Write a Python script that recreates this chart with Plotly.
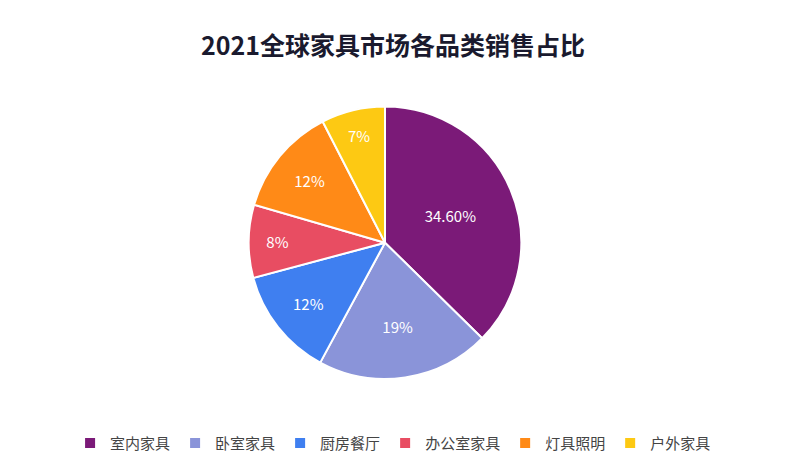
import plotly.graph_objects as go

categories = ["室内家具", "卧室家具", "厨房餐厅", "办公室家具", "灯具照明", "户外家具"]
values = [34.6, 19, 12, 8, 12, 7]
labels_text = ["34.60%", "19%", "12%", "8%", "12%", "7%"]
colors = ["#7b1a78", "#8a94d9", "#3f7ff0", "#e84d62", "#ff8a17", "#fdc913"]

fig = go.Figure(go.Pie(
    labels=categories, values=values, text=labels_text,
    texttemplate="%{text}", textposition="inside", insidetextorientation="horizontal",
    textfont=dict(color="white", size=15, family="Noto Sans CJK SC"),
    marker=dict(colors=colors, line=dict(color="white", width=2)),
    sort=False, direction="clockwise", rotation=0,
    domain=dict(x=[0.297, 0.635], y=[0.197, 0.787]),
    hoverinfo="label+text",
))
fig.update_layout(
    width=809, height=462, margin=dict(l=0, r=0, t=0, b=0),
    paper_bgcolor="white", plot_bgcolor="white",
    font=dict(family="Noto Sans CJK SC", color="#333"),
    title=dict(text="<b>2021全球家具市场各品类销售占比</b>", x=0.476, xanchor="center",
               y=0.918, yanchor="middle", font=dict(size=25, color="#1a1a2e")),
    legend=dict(orientation="h", x=0.476, xanchor="center", y=0.058, yanchor="middle",
                font=dict(size=15, color="#444"), itemwidth=30, tracegroupgap=0),
)
fig.write_html("out.html")
